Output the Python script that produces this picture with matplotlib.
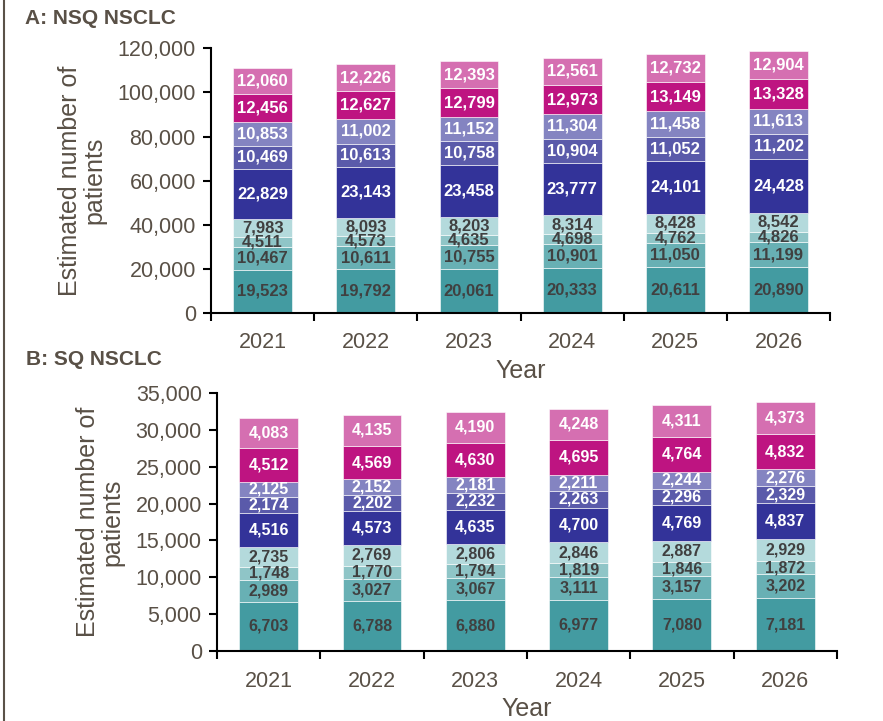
import matplotlib.pyplot as plt
from matplotlib.lines import Line2D
import numpy as np

plt.rcParams["font.family"] = ["Liberation Sans", "DejaVu Sans"]

years = ["2021", "2022", "2023", "2024", "2025", "2026"]

# NSQ NSCLC segments, bottom to top
nsq = [
    [19523, 19792, 20061, 20333, 20611, 20890],
    [10467, 10611, 10755, 10901, 11050, 11199],
    [4511, 4573, 4635, 4698, 4762, 4826],
    [7983, 8093, 8203, 8314, 8428, 8542],
    [22829, 23143, 23458, 23777, 24101, 24428],
    [10469, 10613, 10758, 10904, 11052, 11202],
    [10853, 11002, 11152, 11304, 11458, 11613],
    [12456, 12627, 12799, 12973, 13149, 13328],
    [12060, 12226, 12393, 12561, 12732, 12904],
]

# SQ NSCLC segments, bottom to top
sq = [
    [6703, 6788, 6880, 6977, 7080, 7181],
    [2989, 3027, 3067, 3111, 3157, 3202],
    [1748, 1770, 1794, 1819, 1846, 1872],
    [2735, 2769, 2806, 2846, 2887, 2929],
    [4516, 4573, 4635, 4700, 4769, 4837],
    [2174, 2202, 2232, 2263, 2296, 2329],
    [2125, 2152, 2181, 2211, 2244, 2276],
    [4512, 4569, 4630, 4695, 4764, 4832],
    [4083, 4135, 4190, 4248, 4311, 4373],
]

colors = ["#439BA1", "#68B0B4", "#8FC5C7", "#B4DADC",
          "#333399", "#5A5AAA", "#8484C1", "#BE1481", "#D56FB1"]
label_colors = ["#404040"] * 4 + ["white"] * 5
text_col = "#595046"

fig = plt.figure(figsize=(8.83, 7.21), dpi=100)


def draw_panel(rect, data, ymax, ystep, title, title_xy, lbl_size):
    ax = fig.add_axes(rect)
    x = np.arange(len(years))
    bottom = np.zeros(len(years))
    for seg, col, lc in zip(data, colors, label_colors):
        seg = np.array(seg)
        ax.bar(x, seg, width=0.57, bottom=bottom, color=col,
               edgecolor="white", linewidth=0.4)
        for xi, b, v in zip(x, bottom, seg):
            ax.text(xi, b + v / 2, f"{v:,}", ha="center", va="center",
                    fontsize=lbl_size, fontweight="bold", color=lc)
        bottom += seg

    ax.set_xlim(-0.5, len(years) - 0.5)
    ax.set_ylim(0, ymax)
    ax.set_yticks(np.arange(0, ymax + 1, ystep))
    ax.set_yticklabels([f"{int(v):,}" for v in np.arange(0, ymax + 1, ystep)])
    ax.set_xticks(x)
    ax.set_xticklabels(years)
    ax.set_xticks(np.arange(-0.5, len(years)), minor=True)
    ax.tick_params(axis="x", which="major", length=0, pad=14)
    ax.tick_params(axis="x", which="minor", length=6, width=1.5, direction="out")
    ax.tick_params(axis="y", length=6, width=1.5, pad=5)
    ax.tick_params(labelsize=15.5, labelcolor=text_col)
    for s in ["top", "right"]:
        ax.spines[s].set_visible(False)
    for s in ["left", "bottom"]:
        ax.spines[s].set_linewidth(1.5)
    ax.set_ylabel("Estimated number of\npatients", fontsize=18,
                  color=text_col, labelpad=8, linespacing=1.0)
    ax.set_xlabel("Year", fontsize=18, color=text_col, labelpad=4)
    fig.text(title_xy[0], title_xy[1], title, fontsize=15,
             fontweight="bold", color=text_col, va="center")
    return ax


draw_panel([0.239, 0.566, 0.701, 0.367], nsq, 120000, 20000,
           "A: NSQ NSCLC", (0.028, 0.975), 12)
draw_panel([0.2458, 0.097, 0.702, 0.358], sq, 35000, 5000,
           "B: SQ NSCLC", (0.029, 0.501), 11.5)

# frame line on the left edge
fig.add_artist(Line2D([0.004, 0.004], [0, 1], transform=fig.transFigure,
                      color="#5a5248", linewidth=1.5))

fig.savefig("out.png", dpi=100)
